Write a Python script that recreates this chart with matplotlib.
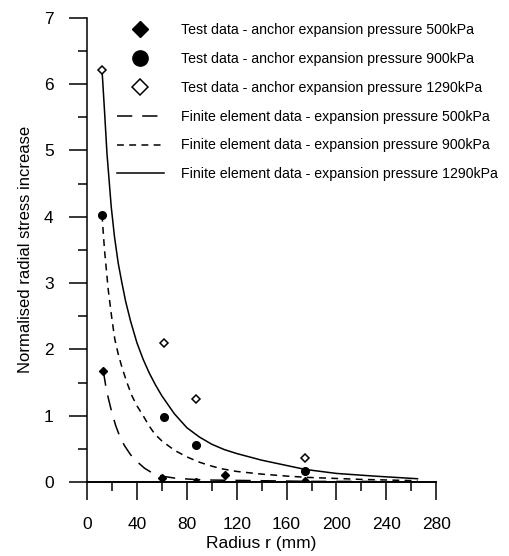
import matplotlib.pyplot as plt
from matplotlib.ticker import MultipleLocator

plt.rcParams['font.family'] = ['Liberation Sans', 'DejaVu Sans']

# test data (radius mm, normalised radial stress increase)
r_test_500 = [13, 60, 87, 111, 175]
s_test_500 = [1.68, 0.06, 0.0, 0.1, 0.02]
r_test_900 = [12, 62, 87, 175]
s_test_900 = [4.03, 0.98, 0.56, 0.17]
r_test_1290 = [12, 62, 87, 175]
s_test_1290 = [6.22, 2.10, 1.25, 0.36]

# finite element curves
r_fe_500 = [13, 15, 17, 20, 23, 26, 30, 35, 40, 46, 52, 60, 70, 85, 100, 140, 180, 220, 265]
s_fe_500 = [1.68, 1.45, 1.27, 1.04, 0.85, 0.7, 0.55, 0.41, 0.31, 0.21, 0.14, 0.09, 0.06,
            0.04, 0.03, 0.02, 0.01, 0.01, 0.0]
r_fe_900 = [12, 14, 17, 20, 22.3, 25, 28, 32, 36, 40, 45, 50, 54.5, 60, 70, 80, 90, 100,
            108, 120, 140, 160, 177, 220, 265]
s_fe_900 = [4.03, 3.5, 2.9, 2.45, 2.15, 1.93, 1.73, 1.5, 1.3, 1.15, 1.0, 0.84, 0.72, 0.62,
            0.48, 0.38, 0.3, 0.24, 0.2, 0.16, 0.12, 0.09, 0.07, 0.04, 0.02]
r_fe_1290 = [12, 14, 16, 19.4, 22, 25, 28, 31, 35, 40, 45, 50, 55, 60, 70, 80, 90, 100,
             110, 120, 140, 160, 175, 200, 230, 265]
s_fe_1290 = [6.22, 5.6, 4.95, 4.15, 3.7, 3.3, 3.0, 2.72, 2.42, 2.1, 1.85, 1.64, 1.46, 1.3,
             1.03, 0.82, 0.68, 0.57, 0.49, 0.43, 0.33, 0.25, 0.19, 0.13, 0.09, 0.05]

labels = [
    'Test data - anchor expansion pressure 500kPa',
    'Test data - anchor expansion pressure 900kPa',
    'Test data - anchor expansion pressure 1290kPa',
    'Finite element data - expansion pressure 500kPa',
    'Finite element data - expansion pressure 900kPa',
    'Finite element data - expansion pressure 1290kPa',
]

fig = plt.figure(figsize=(5.09, 5.56), dpi=100)
ax = fig.add_axes([0.171, 0.133, 0.686, 0.835])

h1, = ax.plot(r_test_500, s_test_500, 'D', color='black', markersize=4.2, zorder=4)
h2, = ax.plot(r_test_900, s_test_900, 'o', color='black', markersize=5.5, zorder=4)
h3, = ax.plot(r_test_1290, s_test_1290, 'D', color='black', markerfacecolor='white',
              markeredgewidth=1.1, markersize=3.6, zorder=4)
h4, = ax.plot(r_fe_500, s_fe_500, color='black', lw=1.1, dashes=(10, 6.5))
h5, = ax.plot(r_fe_900, s_fe_900, color='black', lw=1.1, dashes=(4.5, 3.5))
h6, = ax.plot(r_fe_1290, s_fe_1290, color='black', lw=1.1)

ax.set_xlim(0, 280)
ax.set_ylim(0, 7)
ax.spines['top'].set_visible(False)
ax.spines['right'].set_visible(False)
ax.spines['left'].set_linewidth(1.1)
ax.spines['bottom'].set_linewidth(1.4)

ax.xaxis.set_major_locator(MultipleLocator(40))
ax.xaxis.set_minor_locator(MultipleLocator(20))
ax.yaxis.set_major_locator(MultipleLocator(1))
ax.yaxis.set_minor_locator(MultipleLocator(0.5))
ax.tick_params(which='major', direction='out', length=13, width=1.1, labelsize=12.5, pad=11)
ax.tick_params(which='minor', direction='out', length=6.5, width=1.1)
ax.tick_params(axis='x', which='major', pad=12)

ax.set_xlabel('Radius r (mm)', fontsize=12.5, labelpad=3)
ax.set_ylabel('Normalised radial stress increase', fontsize=12, labelpad=8)

leg = ax.legend([h1, h2, h3, h4, h5, h6], labels, loc='upper left',
                bbox_to_anchor=(117 / 509, 1 - 23 / 556), bbox_transform=fig.transFigure,
                frameon=False, fontsize=10.2, markerscale=2.0, handlelength=3.3,
                handletextpad=1.25, labelspacing=1.05, borderpad=0, borderaxespad=0)
# open diamond in the legend is drawn a bit larger than in the plot
leg.legend_handles[2].set_markersize(8)

fig.savefig('out.png', dpi=100)
